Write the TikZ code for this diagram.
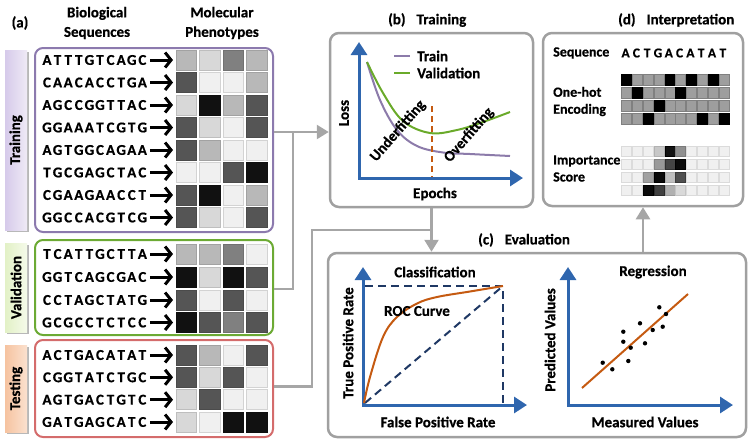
\documentclass[tikz,border=0pt]{standalone}
\usepackage{fontspec}
\setmainfont{Carlito}[BoldFeatures={FakeBold=0.6}]
\usetikzlibrary{arrows.meta}

\newcommand\seqspaced[2]{\def\seqpitch{#1}\edef\seqtmp{#2}\expandafter\seqloop\seqtmp\relax}
\def\seqloop#1{\ifx#1\relax\else\makebox[\seqpitch pt]{#1}\expandafter\seqloop\fi}

\definecolor{lv0}{HTML}{F0F0F0}
\definecolor{lv1}{HTML}{D8D8D8}
\definecolor{lv2}{HTML}{B8B8B8}
\definecolor{lv3}{HTML}{808080}
\definecolor{lv4}{HTML}{555555}
\definecolor{lv5}{HTML}{111111}
\definecolor{trainc}{HTML}{8C7AAE}
\definecolor{valc}{HTML}{6CAA34}
\definecolor{testc}{HTML}{D46C6C}
\definecolor{connc}{HTML}{A6A6A6}
\definecolor{panelc}{HTML}{A0A0A0}
\definecolor{axisc}{HTML}{2F66AE}
\definecolor{orng}{HTML}{C55A11}
\definecolor{navyc}{HTML}{1F3864}
\definecolor{trcurve}{HTML}{8C7BAA}
\definecolor{vacurve}{HTML}{6AAA2A}
\definecolor{tabpl}{HTML}{D6CAEA}
\definecolor{tabpr}{HTML}{EFEAF6}
\definecolor{tabgl}{HTML}{E2F1C6}
\definecolor{tabgr}{HTML}{F5FAEA}
\definecolor{tabol}{HTML}{F6C3A0}
\definecolor{tabor}{HTML}{FBE1CF}

\begin{document}
\begin{tikzpicture}[x=1pt,y=-1pt,
  lbl/.style={font=\bfseries\fontsize{15}{19.5}\selectfont, inner sep=0pt, align=center},
  lbls/.style={font=\bfseries\fontsize{14}{17}\selectfont, inner sep=0pt, align=left},
  seq/.style={font=\bfseries\fontsize{15}{16}\selectfont, inner sep=0pt},
  dseqst/.style={font=\bfseries\fontsize{13.5}{16}\selectfont, inner sep=0pt},
  seqarr/.style={line width=3pt, -{Straight Barb[length=6pt,width=15pt]}},
  groupbox/.style={line width=2pt, rounded corners=8pt, inner sep=0pt},
  panel/.style={draw=panelc, line width=2.5pt, rounded corners=9pt, inner sep=0pt},
  conn/.style={draw=connc, line width=2.5pt},
  connarrow/.style={conn, -{Triangle[length=12pt,width=14pt]}},
  axis/.style={draw=axisc, line width=3pt, {Triangle[length=13pt,width=16pt]}-{Triangle[length=13pt,width=16pt]}},
  tablbl/.style={font=\bfseries\fontsize{15}{16}\selectfont, inner sep=0pt, rotate=90},
  oh0/.style={fill=black!38, draw=black!50, line width=0.6pt},
  oh1/.style={fill=black, draw=black, line width=0.6pt}
]
\useasboundingbox (0,0) rectangle (751,445);

% ---------- (a) headers ----------
\node[lbl] (alabel) at (20,23) {(a)};
\node[lbl] (hbio) at (97,23) {Biological\\Sequences};
\node[lbl] (hmol) at (222,23) {Molecular\\Phenotypes};

% ---------- tabs ----------
\fill[black!28] (6.5,51.5) rectangle (28.5,231.5);
\shade[left color=tabpl, right color=tabpr] (5,50) rectangle (27,230);
\node[tablbl] (ttrain) at (16,140) {Training};
\fill[black!28] (6.5,244.5) rectangle (28.5,333.5);
\shade[left color=tabgl, right color=tabgr] (5,243) rectangle (27,332);
\node[tablbl] (tval) at (16,287.5) {Validation};
\fill[black!28] (6.5,346.5) rectangle (28.5,433.5);
\shade[left color=tabol, right color=tabor] (5,345) rectangle (27,432);
\node[tablbl] (ttest) at (16,388.5) {Testing};

% ---------- group boxes ----------
\node[groupbox, draw=trainc, minimum width=238pt, minimum height=184pt] (trainbox) at (154,140) {};
\node[groupbox, draw=valc, minimum width=238pt, minimum height=95pt] (valbox) at (154,287.5) {};
\node[groupbox, draw=testc, minimum width=238pt, minimum height=97pt] (testbox) at (154,388.5) {};

% ---------- sequences and phenotypes ----------
\foreach \y/\s/\a/\b/\c/\d [count=\i] in {
  60/ATTTGTCAGC/2/1/3/2, 82.5/CAACACCTGA/4/0/0/2, 105/AGCCGGTTAC/1/5/2/4,
  127.5/GGAAATCGTG/4/1/0/4, 150/AGTGGCAGAA/4/2/0/0, 172.5/TGCGAGCTAC/0/0/4/5,
  195/CGAAGAACCT/4/5/0/2, 217.5/GGCCACGTCG/4/1/0/4,
  254/TCATTGCTTA/2/2/3/0, 277/GGTCAGCGAC/5/1/5/4, 300/CCTAGCTATG/4/0/4/0,
  322.5/GCGCCTCTCC/5/4/3/4,
  355/ACTGACATAT/4/2/0/4, 377.3/CGGTATCTGC/4/1/4/0, 399.7/AGTGACTGTC/1/4/0/0,
  422/GATGAGCATC/1/0/5/5} {
  \node[seq, anchor=west] (s\i) at (41.5,\y) {\seqspaced{10.6}{\s}};
  \coordinate (p\i) at (173,\y);
  \draw[seqarr] ([xshift=2pt]s\i.east) -- (p\i);
  \foreach \v [count=\j] in {\a,\b,\c,\d} {
    \draw[fill=lv\v, draw=lv\v!88!black, line width=0.7pt]
      ({176+23.5*(\j-1)},\y-10) rectangle ++(20.5,20);
  }
}

% ---------- panels ----------
\node[panel, minimum width=203pt, minimum height=174pt] (bpanel) at (431.5,120) {};
\node[panel, minimum width=200pt, minimum height=173pt] (dpanel) at (643,119.5) {};
\node[panel, minimum width=418pt, minimum height=184pt] (cpanel) at (537,345) {};

% ---------- connectors ----------
\coordinate (j1) at (293,132);
\coordinate (j2) at (312,230);
\draw[connarrow] ([yshift=8pt]trainbox.east) -- ([yshift=-12pt]bpanel.west);
\draw[conn] ([yshift=-1.5pt]valbox.east) -| (j1);
\draw[conn] ([yshift=2pt]testbox.east) -| (j2) -- (j2 -| bpanel.south);
\draw[connarrow] (bpanel.south) -- (cpanel.north -| bpanel.south);
\draw[connarrow] (cpanel.north -| dpanel.south) -- (dpanel.south);

% ---------- (b) Training ----------
\node[lbl, anchor=west] (btitle) at (388,20) {(b)\hspace{11pt}Training};
\draw[axis] (359,42) -- (359,178) -- (523,178);
\node[lbl, rotate=90] (bloss) at (344,113) {Loss};
\node[lbl] (bepochs) at (435,194) {Epochs};
\node[lbl, anchor=west] (legtrain) at (417,56) {Train};
\node[lbl, anchor=west] (legval) at (417,73) {Validation};
\draw[trcurve, line width=2pt] ([xshift=-23pt]legtrain.west) -- ([xshift=-7pt]legtrain.west);
\draw[vacurve, line width=2pt] ([xshift=-23pt]legval.west) -- ([xshift=-7pt]legval.west);
\draw[trcurve, line width=2pt] plot[smooth, tension=0.6] coordinates
  {(367,62) (380,100) (397,130) (417,146) (443,152.5) (470,154) (510,156)};
\draw[vacurve, line width=2pt] plot[smooth, tension=0.6] coordinates
  {(367,62) (383,93) (403,121) (430,133) (457,130) (483,122) (510,112)};
\draw[orng, line width=2pt, dash pattern=on 6pt off 4pt] (432,106) -- (432,177);
\node[lbl, rotate=49] (bunder) at (398,131) {Underfitting};
\node[lbl, rotate=49] (bover) at (469,135) {Overfitting};

% ---------- (d) Interpretation ----------
\node[lbl, anchor=west] (dtitle) at (618,20) {(d)\hspace{11pt}Interpretation};
\node[lbls, anchor=west] (dseqlbl) at (553,53) {Sequence};
\node[dseqst, anchor=west] (dseq) at (620,53) {\seqspaced{10.8}{ACTGACATAT}};
\node[lbls, anchor=west] (donehot) at (553,101.5) {One-hot\\Encoding};
\node[lbls, anchor=west] (dimp) at (553,168.5) {Importance\\Score};
\foreach \row [count=\r] in {{1,0,0,0,1,0,1,0,1,0},{0,1,0,0,0,1,0,0,0,0},
                             {0,0,0,1,0,0,0,0,0,0},{0,0,1,0,0,0,0,1,0,1}} {
  \foreach \v [count=\c] in \row {
    \draw[oh\v] ({621.7+10.8*(\c-1)},{74+13.2*(\r-1)}) rectangle ++(10,11);
  }
}
\foreach \row [count=\r] in {{6,6,6,22,93,44,6,6,6,6},{6,6,6,40,73,96,6,6,6,6},
                             {6,6,37,96,25,69,6,6,6,6},{6,6,96,75,31,15,6,6,6,6}} {
  \foreach \v [count=\c] in \row {
    \pgfmathtruncatemacro\e{min(100,\v+8)}
    \draw[fill=black!\v, draw=black!\e, line width=0.6pt]
      ({621.7+10.8*(\c-1)},{146+13*(\r-1)}) rectangle ++(10,10.7);
  }
}

% ---------- (c) Evaluation ----------
\node[lbl, anchor=west] (ctitle) at (478,240) {(c)\hspace{11pt}Evaluation};
% classification
\draw[axis] (363,267) -- (363,405) -- (527,405);
\node[lbl] (cclass) at (435,272) {Classification};
\node[lbl, rotate=90] (ctpr) at (348,343) {True Positive Rate};
\node[lbl] (cfpr) at (438,422) {False Positive Rate};
\draw[navyc, line width=2pt, dash pattern=on 8pt off 5pt] (365,286) -- (503,286) -- (503,403);
\draw[navyc, line width=2pt, dash pattern=on 8pt off 5pt] (365,403) -- (503,286);
\draw[orng, line width=2pt] plot[smooth, tension=0.6] coordinates
  {(364,403) (370,377) (383,337) (397,317) (417,303.5) (437,297) (470,291.5) (503,286)};
\node[lbl] (croc) at (417,311) {ROC Curve};
% regression
\draw[axis] (568,267) -- (568,405) -- (733,405);
\node[lbl] (creg) at (653,272) {Regression};
\node[lbl, rotate=90] (cpred) at (550,340) {Predicted Values};
\node[lbl] (cmeas) at (645,422) {Measured Values};
\draw[orng, line width=2pt] (582,388) -- (688,294);
\foreach \px/\py in {602.7/362.7, 612.3/369.3, 623.3/331.7, 623.3/341.7, 630.7/347.7,
  628.3/361, 640/323.3, 645/343.3, 652.7/330, 659.3/307.3, 666/314, 662.7/326.7}
  \fill (\px,\py) circle (2.2pt);
\end{tikzpicture}
\end{document}
